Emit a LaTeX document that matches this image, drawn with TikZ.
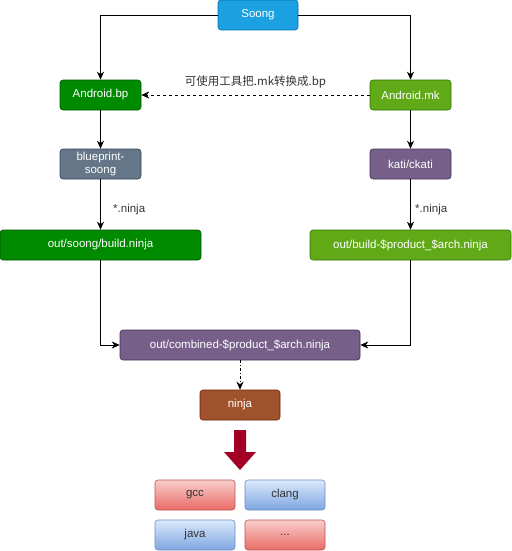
\documentclass[tikz,border=0pt]{standalone}
\usepackage{fontspec}
\setmainfont{Liberation Sans}
\newfontfamily\cjk{Noto Sans CJK SC}
\usepackage{tikz}
\usetikzlibrary{arrows.meta}

\definecolor{soongblue}{HTML}{1BA1E2}
\definecolor{soongline}{HTML}{006EAF}
\definecolor{bpgreen}{HTML}{008A00}
\definecolor{bpline}{HTML}{005700}
\definecolor{mkgreen}{HTML}{60A917}
\definecolor{mkline}{HTML}{2D7600}
\definecolor{slate}{HTML}{647687}
\definecolor{slateline}{HTML}{314354}
\definecolor{violet}{HTML}{76608A}
\definecolor{violetline}{HTML}{432D57}
\definecolor{sienna}{HTML}{A0522D}
\definecolor{siennaline}{HTML}{6D1F00}
\definecolor{bigred}{HTML}{A20025}
\definecolor{redtop}{HTML}{F8CECC}
\definecolor{redbot}{HTML}{EA6B66}
\definecolor{redline}{HTML}{B85450}
\definecolor{bluetop}{HTML}{DAE8FC}
\definecolor{bluebot}{HTML}{7EA6E0}
\definecolor{blueline}{HTML}{6C8EBF}

\tikzset{
  box/.style={draw,rectangle,rounded corners=3pt,line width=0.6pt,text=white,
    minimum height=30pt,inner sep=0pt,align=center,
    font=\fontsize{11.5}{12.5}\selectfont},
  tool/.style={box,text=black!80,minimum width=80pt},
  flow/.style={-{Stealth[length=8pt,width=7pt,inset=2.5pt]},line width=0.8pt},
  note/.style={text=black!80,font=\fontsize{11.5}{13}\selectfont}
}

\begin{document}
\begin{tikzpicture}[x=1pt,y=-1pt]
\useasboundingbox (0,0) rectangle (511,551);

% sources
\node [box,fill=soongblue,draw=soongline,minimum width=80pt] (soong) at(258,15){Soong};
\node [box,fill=bpgreen,draw=bpline,minimum width=81pt] (abp) at(100.5,95){Android.bp};
\node [box,fill=mkgreen,draw=mkline,minimum width=81pt] (amk) at(410.5,95){Android.mk};
\draw [flow] (soong) -| (abp);
\draw [flow] (soong) -| (amk);
\draw [flow,dashed] (amk) -- node[note,above=3pt]{\cjk 可使用工具把.mk转换成.bp} (abp);

% generators
\node [box,fill=slate,draw=slateline,minimum width=81pt] (bps) at(100.5,164){blueprint-\\soong};
\node [box,fill=violet,draw=violetline,minimum width=81pt] (kati) at(410.5,164){kati/ckati};
\draw [flow] (abp) -- (bps);
\draw [flow] (amk) -- (kati);

% ninja files
\node [box,fill=bpgreen,draw=bpline,minimum width=201pt] (sbuild) at(100.5,245){out/soong/build.ninja};
\node [box,fill=mkgreen,draw=mkline,minimum width=201pt] (pbuild) at(410.5,245){out/build-\$product\_\$arch.ninja};
\draw [flow] (bps) -- node[note,pos=0.6,right=9pt]{*.ninja} (sbuild);
\draw [flow] (kati) -- node[note,pos=0.6,right=1pt]{*.ninja} (pbuild);

\node [box,fill=violet,draw=violetline,minimum width=240pt] (comb) at(240,345){out/combined-\$product\_\$arch.ninja};
\draw [flow] (sbuild) |- (comb);
\draw [flow] (pbuild) |- (comb);

\node [box,fill=sienna,draw=siennaline,minimum width=80pt] (ninja) at(240,405){ninja};
\draw [flow,dash dot] (comb) -- (ninja);

% big arrow
\fill [bigred] (234,430) -- (246,430) -- (246,452) -- (256,452) -- (240,470)
  -- (224,452) -- (234,452) -- cycle;

% tools
\node [tool,top color=redtop,bottom color=redbot,draw=redline] (gcc) at(195,495){gcc};
\node [tool,top color=bluetop,bottom color=bluebot,draw=blueline] (clang) at(285,495){clang};
\node [tool,top color=bluetop,bottom color=bluebot,draw=blueline] (java) at(195,535){java};
\node [tool,top color=redtop,bottom color=redbot,draw=redline] (more) at(285,535){...};
\end{tikzpicture}
\end{document}
